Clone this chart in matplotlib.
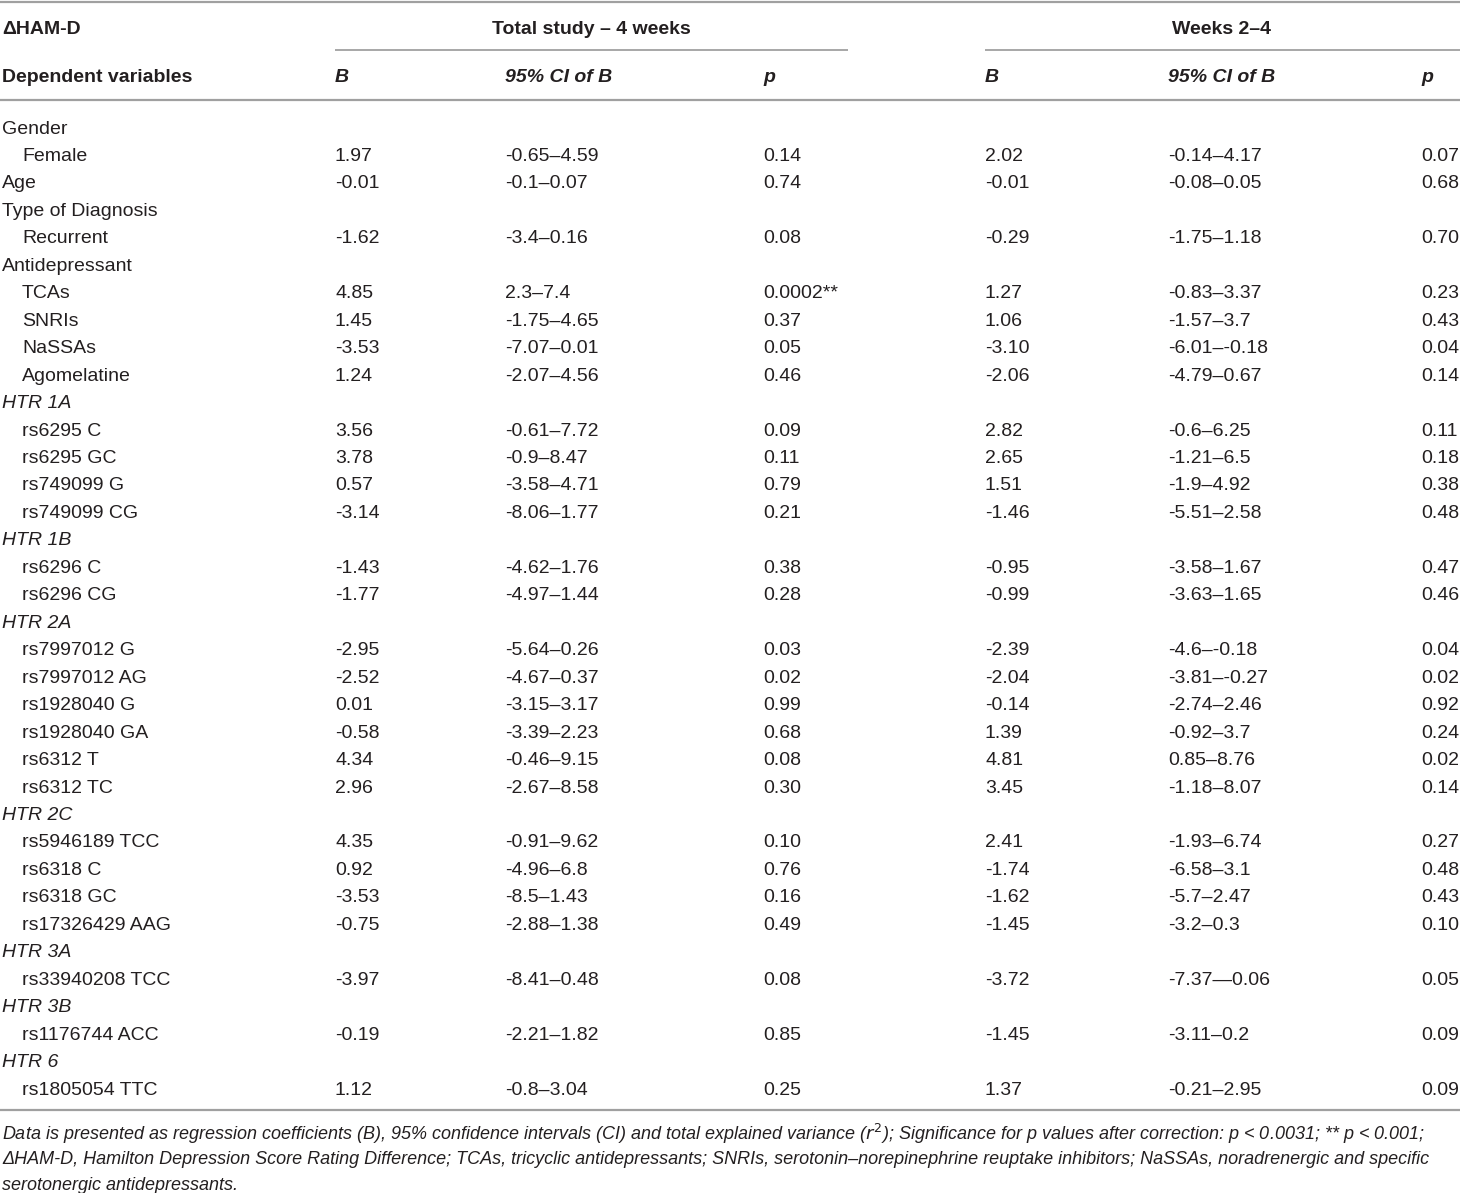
import matplotlib
matplotlib.use("Agg")
from matplotlib import pyplot as plt

plt.rcParams['font.family'] = ['Liberation Sans', 'DejaVu Sans']

# row labels: (text, indent, italic)
row_labels = [
    ("Gender", 0, False), ("Female", 1, False), ("Age", 0, False),
    ("Type of Diagnosis", 0, False), ("Recurrent", 1, False),
    ("Antidepressant", 0, False), ("TCAs", 1, False), ("SNRIs", 1, False),
    ("NaSSAs", 1, False), ("Agomelatine", 1, False),
    ("HTR 1A", 0, True), ("rs6295 C", 1, False), ("rs6295 GC", 1, False),
    ("rs749099 G", 1, False), ("rs749099 CG", 1, False),
    ("HTR 1B", 0, True), ("rs6296 C", 1, False), ("rs6296 CG", 1, False),
    ("HTR 2A", 0, True), ("rs7997012 G", 1, False), ("rs7997012 AG", 1, False),
    ("rs1928040 G", 1, False), ("rs1928040 GA", 1, False),
    ("rs6312 T", 1, False), ("rs6312 TC", 1, False),
    ("HTR 2C", 0, True), ("rs5946189 TCC", 1, False), ("rs6318 C", 1, False),
    ("rs6318 GC", 1, False), ("rs17326429 AAG", 1, False),
    ("HTR 3A", 0, True), ("rs33940208 TCC", 1, False),
    ("HTR 3B", 0, True), ("rs1176744 ACC", 1, False),
    ("HTR 6", 0, True), ("rs1805054 TTC", 1, False),
]

total_b = ["", "1.97", "-0.01", "", "-1.62", "", "4.85", "1.45", "-3.53", "1.24",
           "", "3.56", "3.78", "0.57", "-3.14", "", "-1.43", "-1.77",
           "", "-2.95", "-2.52", "0.01", "-0.58", "4.34", "2.96",
           "", "4.35", "0.92", "-3.53", "-0.75", "", "-3.97", "", "-0.19", "", "1.12"]
total_ci = ["", "-0.65–4.59", "-0.1–0.07", "", "-3.4–0.16", "", "2.3–7.4",
            "-1.75–4.65", "-7.07–0.01", "-2.07–4.56",
            "", "-0.61–7.72", "-0.9–8.47", "-3.58–4.71", "-8.06–1.77",
            "", "-4.62–1.76", "-4.97–1.44",
            "", "-5.64–0.26", "-4.67–0.37", "-3.15–3.17", "-3.39–2.23",
            "-0.46–9.15", "-2.67–8.58",
            "", "-0.91–9.62", "-4.96–6.8", "-8.5–1.43", "-2.88–1.38",
            "", "-8.41–0.48", "", "-2.21–1.82", "", "-0.8–3.04"]
total_p = ["", "0.14", "0.74", "", "0.08", "", "0.0002**", "0.37", "0.05", "0.46",
           "", "0.09", "0.11", "0.79", "0.21", "", "0.38", "0.28",
           "", "0.03", "0.02", "0.99", "0.68", "0.08", "0.30",
           "", "0.10", "0.76", "0.16", "0.49", "", "0.08", "", "0.85", "", "0.25"]

weeks_b = ["", "2.02", "-0.01", "", "-0.29", "", "1.27", "1.06", "-3.10", "-2.06",
           "", "2.82", "2.65", "1.51", "-1.46", "", "-0.95", "-0.99",
           "", "-2.39", "-2.04", "-0.14", "1.39", "4.81", "3.45",
           "", "2.41", "-1.74", "-1.62", "-1.45", "", "-3.72", "", "-1.45", "", "1.37"]
weeks_ci = ["", "-0.14–4.17", "-0.08–0.05", "", "-1.75–1.18", "", "-0.83–3.37",
            "-1.57–3.7", "-6.01–-0.18", "-4.79–0.67",
            "", "-0.6–6.25", "-1.21–6.5", "-1.9–4.92", "-5.51–2.58",
            "", "-3.58–1.67", "-3.63–1.65",
            "", "-4.6–-0.18", "-3.81–-0.27", "-2.74–2.46", "-0.92–3.7",
            "0.85–8.76", "-1.18–8.07",
            "", "-1.93–6.74", "-6.58–3.1", "-5.7–2.47", "-3.2–0.3",
            "", "-7.37—0.06", "", "-3.11–0.2", "", "-0.21–2.95"]
weeks_p = ["", "0.07", "0.68", "", "0.70", "", "0.23", "0.43", "0.04", "0.14",
           "", "0.11", "0.18", "0.38", "0.48", "", "0.47", "0.46",
           "", "0.04", "0.02", "0.92", "0.24", "0.02", "0.14",
           "", "0.27", "0.48", "0.43", "0.10", "", "0.05", "", "0.09", "", "0.09"]

group_titles = ["Total study – 4 weeks", "Weeks 2–4"]
col_headers = ["B", "95% CI of B", "p", "B", "95% CI of B", "p"]
footnote = [
    "Data is presented as regression coefficients (B), 95% confidence intervals (CI) and total explained variance ($r^2$); Significance for p values after correction: p < 0.0031; ** p < 0.001;",
    "ΔHAM-D, Hamilton Depression Score Rating Difference; TCAs, tricyclic antidepressants; SNRIs, serotonin–norepinephrine reuptake inhibitors; NaSSAs, noradrenergic and specific",
    "serotonergic antidepressants.",
]

W, H = 1460, 1193
fig = plt.figure(figsize=(W / 100, H / 100), dpi=100)
ax = fig.add_axes([0, 0, 1, 1])
ax.set_xlim(0, W)
ax.set_ylim(H, 0)
ax.axis("off")

ink = "#231f20"
rule = "#a0a0a0"
fs = 14

col_x = [335, 505, 763, 985, 1168, 1421]
columns = [total_b, total_ci, total_p, weeks_b, weeks_ci, weeks_p]

# rules
ax.hlines(2, 0, W, color=rule, lw=1.6)
ax.hlines(50, 335, 848, color=rule, lw=1.3)
ax.hlines(50, 985, W, color=rule, lw=1.3)
ax.hlines(100, 0, W, color=rule, lw=1.6)
ax.hlines(1110, 0, W, color=rule, lw=1.6)

# header
ax.text(2, 27, "ΔHAM-D", fontsize=fs, fontweight="bold", color=ink, va="center_baseline")
ax.text(591, 27, group_titles[0], fontsize=fs, fontweight="bold", color=ink,
        va="center_baseline", ha="center")
ax.text(1222, 27, group_titles[1], fontsize=fs, fontweight="bold", color=ink,
        va="center_baseline", ha="center")
ax.text(2, 76, "Dependent variables", fontsize=fs, fontweight="bold", color=ink,
        va="center_baseline")
for x, h in zip(col_x, col_headers):
    ax.text(x, 76, h, fontsize=fs, fontweight="bold", style="italic", color=ink,
            va="center_baseline")

# body
y0, dy = 127, 27.46
for i, (label, indent, ital) in enumerate(row_labels):
    y = y0 + i * dy
    ax.text(2 + 20 * indent, y, label, fontsize=fs, color=ink, va="center_baseline",
            style="italic" if ital else "normal")
    for x, col in zip(col_x, columns):
        if col[i]:
            ax.text(x, y, col[i], fontsize=fs, color=ink, va="center_baseline")

# footnote
for j, line in enumerate(footnote):
    ax.text(2, 1131 + j * 26.5, line, fontsize=12.95, style="italic", color=ink,
            va="center_baseline")

fig.savefig("out.png", dpi=100)
